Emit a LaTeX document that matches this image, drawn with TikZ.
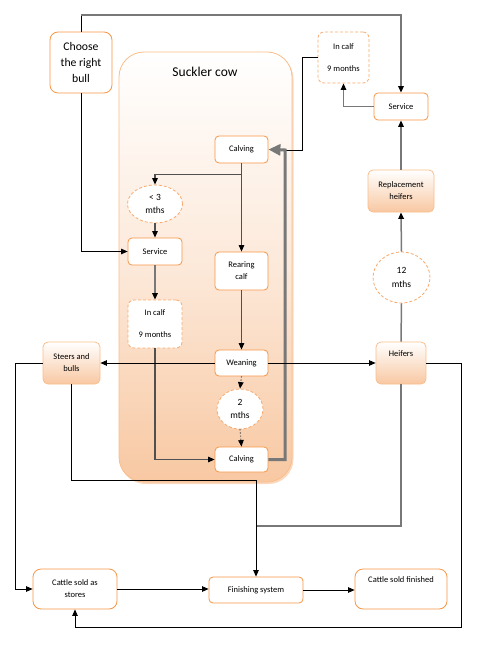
\documentclass[tikz,border=0pt]{standalone}
\usepackage{fontspec}
\setmainfont{Carlito}
\usetikzlibrary{%
  arrows.meta,
  calc
}
\usetikzlibrary{shapes.geometric}
\usetikzlibrary{shadows}

\definecolor{boxorange}{RGB}{247,150,70}
\definecolor{lightorange}{RGB}{250,190,140}
\definecolor{dashorange}{RGB}{248,170,110}
\definecolor{peach}{RGB}{248,200,162}
\definecolor{linegray}{RGB}{120,120,120}
\definecolor{darkline}{RGB}{80,80,80}

\newcommand\boxfont{\fontsize{8.5}{12}\selectfont}
\newcommand\mthsfont{\fontsize{9.5}{13.5}\selectfont}
\newcommand\bullfont{\fontsize{11.7}{16}\selectfont}
\newcommand\cowfont{\fontsize{13.5}{16}\selectfont}

\tikzset{
  >={Triangle[length=6.5pt,width=5.5pt,color=black]},
  box/.style={draw=boxorange, fill=white, line width=0.8pt, rounded corners=4pt,
    align=center, font=\boxfont, inner sep=2pt},
  bigbox/.style={box, rounded corners=8pt},
  dashbox/.style={box, draw=dashorange, dash pattern=on 3pt off 2pt, rounded corners=6pt},
  shadebox/.style={box, draw=lightorange, top color=white, bottom color=peach,
    rounded corners=5pt},
  mths/.style={ellipse, draw=dashorange, dash pattern=on 3pt off 2pt, fill=white,
    line width=0.8pt, align=center, font=\mthsfont, inner sep=0pt},
  lift/.style={text depth=#1},
  blk/.style={draw=black, line width=0.75pt},
  gry/.style={draw=linegray, line width=1.5pt},
  dgry/.style={draw=darkline, line width=1.1pt},
  loop/.style={draw=linegray, line width=3pt,
    -{Triangle[length=12pt,width=11pt,color=linegray]}}
}

\begin{document}
\begin{tikzpicture}[x=1pt, y=-1pt]
    \useasboundingbox (0,0) rectangle (500,652);

    % Suckler cow block
    \node[draw=lightorange, line width=0.8pt, rounded corners=25pt,
      top color=white, bottom color=peach, middle color=peach!40,
      drop shadow={shadow xshift=1.5pt, shadow yshift=-2pt, fill=peach, opacity=0.7},
      minimum width=173, minimum height=430] (cow) at (205.5,267) {};
    \node[font=\cowfont] (cowtitle) at (205,72) {Suckler cow};

    % Boxes outside
    \node[bigbox, font=\bullfont, minimum width=62, minimum height=61] (bull) at (81,62.5)
      {Choose\\the right\\bull};
    \node[dashbox, minimum width=51, minimum height=51] (calfout) at (343.5,57.5)
      {In calf\\[10pt]9 months};
    \node[box, minimum width=54, minimum height=27] (servout) at (401,106.5) {Service};
    \node[shadebox, minimum width=66, minimum height=42] (repl) at (401,191)
      {Replacement\\heifers};
    \node[mths, minimum width=57, minimum height=51] (twelve) at (401.5,277.5) {12\\mths};
    \node[shadebox, lift=18pt, minimum width=50, minimum height=42] (heif) at (401,363) {Heifers};
    \node[shadebox, minimum width=57, minimum height=42] (steer) at (71.5,363)
      {Steers and\\bulls};
    \node[bigbox, minimum width=84, minimum height=40] (stores) at (75,589)
      {Cattle sold as\\stores};
    \node[box, minimum width=94, minimum height=26] (finsys) at (256,590) {Finishing system};
    \node[bigbox, lift=18pt, minimum width=92, minimum height=40] (sold) at (401,589)
      {Cattle sold finished};

    % Boxes inside
    \node[box, minimum width=53, minimum height=27] (calvtop) at (241.5,149.5) {Calving};
    \node[mths, minimum width=55, minimum height=38] (lt3) at (155,204) {< 3\\mths};
    \node[box, minimum width=54, minimum height=27] (servin) at (155,251.5) {Service};
    \node[dashbox, minimum width=54, minimum height=48] (calfin) at (155,324)
      {In calf\\[10pt]9 months};
    \node[box, minimum width=53, minimum height=38] (rear) at (241.5,271) {Rearing\\calf};
    \node[box, minimum width=53, minimum height=26] (wean) at (241.5,363) {Weaning};
    \node[mths, minimum width=46, minimum height=40] (two) at (240,409) {2\\mths};
    \node[box, minimum width=53, minimum height=25] (calvbot) at (241.5,459.5) {Calving};

    % Bends
    \coordinate (topleft) at (81,15);
    \coordinate (joinpt) at (302,150);
    \coordinate (loopcorner) at (285,150);
    \coordinate (finjoin) at (256,526);

    % Connectors
    \draw[blk] (bull.north) -- (topleft);
    \draw[gry,->] (topleft) -| (servout.north);
    \draw[blk,->] (bull.south) |- (servin.west);
    \draw[gry,->] (servout.west) -| (calfout.south);
    \draw[blk] (calfout.west) -| (joinpt) -- (loopcorner);
    \draw[loop] (calvbot.east) -| (loopcorner) -- (calvtop.east);

    \draw[dgry,->] (calvtop.south) -- ++(0,11) -| (lt3.north);
    \draw[dgry,->] (calvtop.south) -- (rear.north);
    \draw[dgry,->] (lt3.south) -- (servin.north);
    \draw[gry,->] (servin.south) -- (calfin.north);
    \draw[dgry,->] (calfin.south) |- (calvbot.west);
    \draw[dgry,->] (rear.south) -- (wean.north);
    \draw[dgry,dotted,->] (wean.south) -- (two.north);
    \draw[dgry,dotted,->] (two.south) -- (calvbot.north);

    \draw[blk,->] (wean.west) -- (steer.east);
    \draw[blk,->] (wean.east) -- (heif.west);

    \draw[gry] (heif.north) -- (twelve.south);
    \draw[gry,->] (twelve.north) -- (repl.south);
    \draw[gry,->] (repl.north) -- (servout.south);
    \draw[gry] (heif.south) |- (finjoin);

    \draw[blk,->] (steer.south) -- ++(0,96) -| (finsys.north);
    \draw[blk,->] (steer.west) -- ++(-27.5,0) |- (stores.west);
    \draw[blk,->] (stores.east) -- (stores.east -| finsys.west);
    \draw[blk,->] (finsys.east) -- (finsys.east -| sold.west);
    \draw[blk,->] (heif.east) -- ++(35,0) -- ++(0,264) -| (stores.south);

\end{tikzpicture}
\end{document}
